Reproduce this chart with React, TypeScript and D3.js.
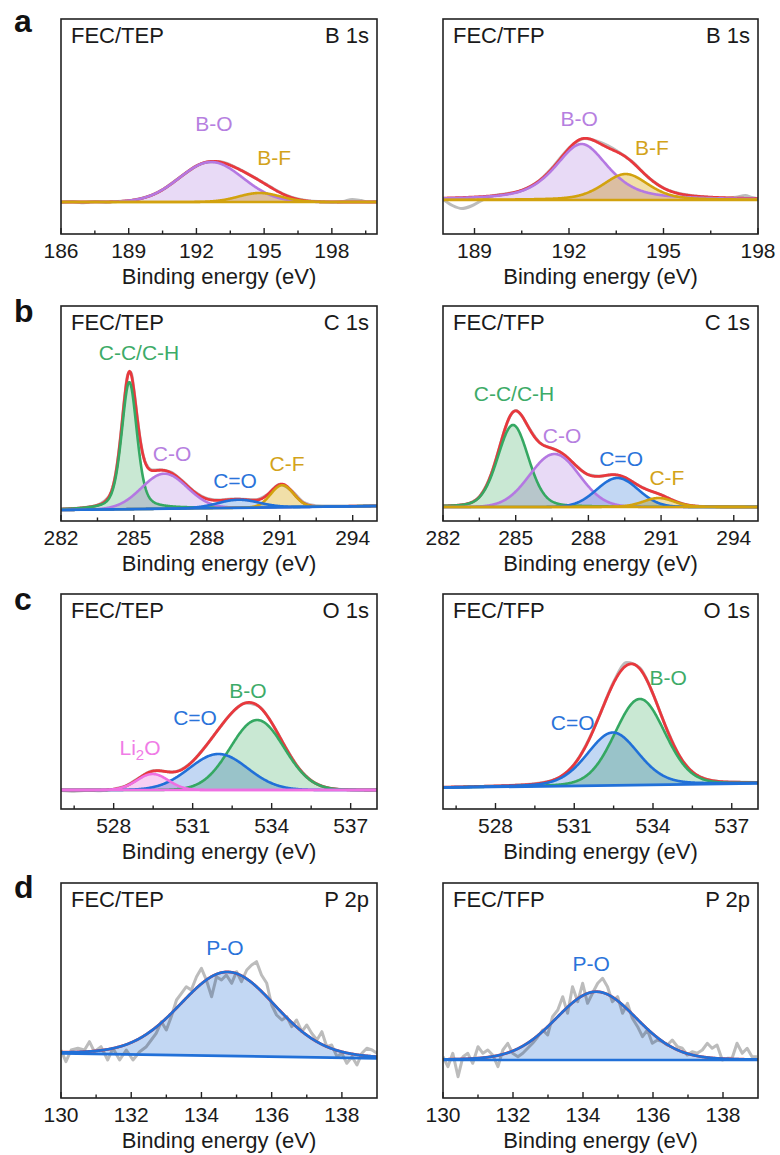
import React from "react";
import * as d3 from "d3";

type Pt = [number, number];
interface Peak { name: string; center: number; fwhm: number; height: number; mix: number; }
interface Label { text: string; e: number; i: number; }

// ================= a : B 1s =================
const B1s_TEP_domain = [186, 200];
const B1s_TEP_ticks = [186, 189, 192, 195, 198];
const B1s_TEP_minor = [187.5, 190.5, 193.5, 196.5, 199.5];
const B1s_TEP_bg = [32, 32];
const B1s_TEP_raw: Pt[] = [
  [186, 31.5], [186.5, 32.4], [187, 31.3], [187.5, 32.6], [188, 31.7], [188.5, 32.6], [189, 33.2],
  [189.5, 35.3], [190, 38.6], [190.5, 44.2], [191, 52.3], [191.5, 60.4], [192, 68.2], [192.5, 72.1],
  [193, 72.6], [193.5, 69.2], [194, 63.6], [194.5, 57.4], [195, 50.9], [195.5, 44.3], [196, 38.6],
  [196.5, 35], [197, 33.1], [197.5, 32.3], [198, 31.8], [198.5, 32.5], [198.9, 34.6], [199.3, 33.4],
  [199.6, 32.2], [200, 32.4],
];
const B1s_TEP_peaks: Peak[] = [
  { name: "B-O", center: 192.65, fwhm: 3.3, height: 40, mix: 0 },
  { name: "B-F", center: 194.8, fwhm: 2.2, height: 9, mix: 0 },
];
const B1s_TEP_labels: Label[] = [
  { text: "B-O", e: 192.78, i: 103.5 },
  { text: "B-F", e: 195.44, i: 69.5 },
];

const B1s_TFP_domain = [188, 198];
const B1s_TFP_ticks = [189, 192, 195, 198];
const B1s_TFP_minor = [190.5, 193.5, 196.5];
const B1s_TFP_bg = [34, 34];
const B1s_TFP_raw: Pt[] = [
  [188, 34.5], [188.3, 28.5], [188.6, 25.5], [188.9, 28], [189.2, 33], [189.5, 37.5], [190, 40.2],
  [190.5, 43.5], [191, 52], [191.5, 67.5], [192, 86], [192.5, 95.5], [193, 91.5], [193.5, 83.5],
  [194, 72.5], [194.5, 57], [195, 46], [195.5, 40.5], [196, 38], [196.5, 36.5], [197, 36],
  [197.3, 36.8], [197.6, 38.6], [197.8, 36.5], [198, 35.2],
];
const B1s_TFP_peaks: Peak[] = [
  { name: "B-O", center: 192.4, fwhm: 2.0, height: 56, mix: 0.6 },
  { name: "B-F", center: 193.8, fwhm: 1.7, height: 26, mix: 0.4 },
];
const B1s_TFP_labels: Label[] = [
  { text: "B-O", e: 192.32, i: 108.5 },
  { text: "B-F", e: 194.63, i: 79.5 },
];

// ================= b : C 1s =================
const C1s_domain = [282, 295];
const C1s_ticks = [282, 285, 288, 291, 294];
const C1s_minor = [283.5, 286.5, 289.5, 292.5];

const C1s_TEP_bg = [11, 15];
const C1s_TEP_raw: Pt[] = [
  [282, 12], [282.5, 12.4], [283, 13.6], [283.5, 15.9], [284, 25.6], [284.25, 47.5], [284.375, 68.5],
  [284.5, 96], [284.625, 125.5], [284.75, 146.5], [284.875, 148.5], [285, 131], [285.125, 106],
  [285.25, 83], [285.375, 66.5], [285.5, 57], [285.75, 51], [286, 51.2], [286.5, 49], [287, 40],
  [287.5, 29.3], [288, 22.6], [288.5, 20.9], [289, 22], [289.5, 21.8], [290, 21.3], [290.5, 26.6],
  [291, 36.8], [291.5, 30], [292, 18.3], [292.5, 15.3], [293, 14.9], [293.5, 15.1], [294, 15.1],
  [294.5, 15.2], [295, 15.1],
];
const C1s_TEP_peaks: Peak[] = [
  { name: "C-C/C-H", center: 284.81, fwhm: 0.75, height: 127, mix: 0.4 },
  { name: "C-O", center: 286.25, fwhm: 2.2, height: 35, mix: 0 },
  { name: "C-F", center: 291.1, fwhm: 1.1, height: 22, mix: 0 },
  { name: "C=O", center: 289.3, fwhm: 2.0, height: 8, mix: 0 },
];
const C1s_TEP_labels: Label[] = [
  { text: "C-C/C-H", e: 285.21, i: 161.5 },
  { text: "C-O", e: 286.57, i: 60.5 },
  { text: "C=O", e: 289.16, i: 33.5 },
  { text: "C-F", e: 291.3, i: 50.5 },
];

const C1s_TFP_bg = [14, 14];
const C1s_TFP_raw: Pt[] = [
  [282, 15], [282.5, 15.5], [283, 17.1], [283.5, 24.3], [284, 47.5], [284.25, 66.8], [284.5, 87.6],
  [284.75, 104], [285, 110.5], [285.25, 105.3], [285.5, 95], [286, 78.1], [286.5, 72.6], [287, 66.2],
  [287.5, 55], [288, 46.2], [288.5, 44.8], [289, 46.3], [289.5, 43.7], [290, 36.5], [290.5, 30.6],
  [291, 26.3], [291.5, 20.6], [292, 16.5], [292.5, 14.8], [293, 14.3], [294, 14.1], [295, 14],
];
const C1s_TFP_peaks: Peak[] = [
  { name: "C-C/C-H", center: 284.89, fwhm: 1.5, height: 82, mix: 0.2 },
  { name: "C-O", center: 286.6, fwhm: 2.4, height: 53, mix: 0 },
  { name: "C=O", center: 289.2, fwhm: 2.0, height: 29, mix: 0 },
  { name: "C-F", center: 290.9, fwhm: 1.5, height: 9, mix: 0.2 },
];
const C1s_TFP_labels: Label[] = [
  { text: "C-C/C-H", e: 284.93, i: 120.5 },
  { text: "C-O", e: 286.91, i: 78.5 },
  { text: "C=O", e: 289.35, i: 55.5 },
  { text: "C-F", e: 291.24, i: 36.5 },
];

// ================= c : O 1s =================
const O1s_domain = [526, 538];
const O1s_ticks = [528, 531, 534, 537];
const O1s_minor = [526.5, 529.5, 532.5, 535.5];

const O1s_TEP_bg = [19, 19];
const O1s_TEP_raw: Pt[] = [
  [526, 18.6], [526.5, 17.8], [527, 18.7], [527.5, 18.2], [528, 19.9], [528.5, 23.6], [529, 31.8],
  [529.5, 38.2], [529.75, 38.3], [530, 37.4], [530.25, 36.9], [530.5, 38.6], [531, 47.8], [531.5, 63],
  [532, 80.4], [532.5, 96.5], [533, 106], [533.5, 103], [534, 86.3], [534.5, 62.9], [535, 41.9],
  [535.5, 28.5], [536, 22.1], [536.5, 19.8], [537, 19.4], [537.5, 19.1], [538, 19.3],
];
const O1s_TEP_peaks: Peak[] = [
  { name: "B-O", center: 533.45, fwhm: 2.4, height: 70, mix: 0 },
  { name: "C=O", center: 531.98, fwhm: 2.6, height: 36, mix: 0 },
  { name: "Li2O", center: 529.48, fwhm: 1.4, height: 16, mix: 0 },
];
const O1s_TEP_labels: Label[] = [
  { text: "B-O", e: 533.1, i: 111.5 },
  { text: "C=O", e: 531.09, i: 84.5 },
  { text: "Li2O", e: 529.0, i: 54.5 },
];

const O1s_TFP_bg = [21.3, 25.7];
const O1s_TFP_raw: Pt[] = [
  [526, 21.5], [526.5, 22], [527, 22.3], [527.5, 22.5], [528, 23], [528.5, 23.6], [529, 24.2],
  [529.5, 25.3], [530, 27.5], [530.5, 32.5], [531, 44.5], [531.5, 66.5], [532, 96], [532.5, 127],
  [533, 146.5], [533.5, 141], [534, 115], [534.5, 81.5], [535, 53.5], [535.5, 37.2], [536, 30],
  [536.5, 27.6], [537, 26.9], [537.5, 26.8], [538, 26.6],
];
const O1s_TFP_peaks: Peak[] = [
  { name: "B-O", center: 533.5, fwhm: 2.25, height: 86, mix: 0.1 },
  { name: "C=O", center: 532.47, fwhm: 2.3, height: 52.8, mix: 0.2 },
];
const O1s_TFP_labels: Label[] = [
  { text: "B-O", e: 534.58, i: 124.5 },
  { text: "C=O", e: 530.94, i: 79.5 },
];

// ================= d : P 2p =================
const P2p_domain = [130, 139];
const P2p_ticks = [130, 132, 134, 136, 138];
const P2p_minor = [131, 133, 135, 137];

const P2p_TEP_bg = [44.7, 39.7];
const P2p_TEP_raw: Pt[] = [
  [130.0, 48], [130.14, 36.3], [130.29, 48], [130.48, 49.7], [130.67, 48], [130.81, 56.3], [130.95, 46.3],
  [131.14, 51.3], [131.33, 38], [131.48, 49.7], [131.67, 38], [131.86, 48], [132.05, 38], [132.24, 46.3],
  [132.43, 51.3], [132.57, 58], [132.71, 64.7], [132.86, 76.3], [133.0, 68], [133.14, 81.3], [133.29, 98],
  [133.43, 104.7], [133.57, 111.3], [133.71, 108], [133.86, 121.3], [134.0, 129.7], [134.14, 118],
  [134.29, 101.3], [134.43, 121.3], [134.57, 118], [134.71, 123], [134.86, 114.7], [135.0, 126.3],
  [135.14, 116.3], [135.29, 128], [135.43, 133], [135.57, 136.3], [135.71, 123], [135.86, 114.7],
  [136.0, 93], [136.14, 83], [136.29, 78], [136.43, 81.3], [136.57, 71.3], [136.71, 78], [136.86, 66.3],
  [137.0, 73], [137.14, 64.7], [137.29, 58], [137.43, 66.3], [137.57, 51.3], [137.71, 53], [137.86, 41.3],
  [138.0, 44.7], [138.14, 34.7], [138.29, 41.3], [138.43, 33], [138.57, 44.7], [138.71, 49.7],
  [138.86, 48], [139.0, 44.7],
];
const P2p_TEP_peaks: Peak[] = [
  { name: "P-O", center: 134.75, fwhm: 3.2, height: 84, mix: 0.1 },
];
const P2p_TEP_labels: Label[] = [{ text: "P-O", e: 134.67, i: 143.5 }];

const P2p_TFP_bg = [38, 38];
const P2p_TFP_raw: Pt[] = [
  [130.0, 41.3], [130.14, 31.3], [130.28, 44.7], [130.43, 21.3], [130.57, 41.3], [130.71, 44.7],
  [130.85, 34.7], [131.0, 51.3], [131.14, 44.7], [131.28, 48], [131.42, 43], [131.57, 31.3], [131.71, 48],
  [131.85, 54.7], [131.99, 44.7], [132.14, 41.3], [132.28, 44.7], [132.42, 49.7], [132.56, 54.7],
  [132.71, 61.3], [132.85, 68], [132.99, 63], [133.13, 81.3], [133.28, 88], [133.42, 101.3], [133.56, 84.7],
  [133.7, 111.3], [133.85, 96.3], [133.99, 114.7], [134.13, 94.7], [134.27, 104.7], [134.42, 114.7],
  [134.56, 119.7], [134.7, 111.3], [134.84, 96.3], [134.99, 101.3], [135.13, 84.7], [135.27, 94.7],
  [135.41, 79.7], [135.56, 71.3], [135.7, 61.3], [135.84, 68], [135.98, 54.7], [136.13, 58], [136.27, 56.3],
  [136.41, 53], [136.55, 58], [136.7, 51.3], [136.84, 49.7], [136.98, 43], [137.12, 46.3], [137.26, 44.7],
  [137.41, 48], [137.55, 54.7], [137.69, 49.7], [137.83, 53], [137.98, 38], [138.12, 39.7], [138.26, 39.7],
  [138.4, 54.7], [138.55, 44.7], [138.69, 49.7], [138.83, 41.3], [138.97, 41.3],
];
const P2p_TFP_peaks: Peak[] = [
  { name: "P-O", center: 134.38, fwhm: 2.73, height: 68.3, mix: 0.1 },
];
const P2p_TFP_labels: Label[] = [{ text: "P-O", e: 134.23, i: 127.5 }];

// ================= styles & layout =================
const FONT = "'Liberation Sans', Arial, Helvetica, sans-serif";
const PALETTE: Record<string, { line: string; fill: string; text: string }> = {
  purple: { line: "#b478e2", fill: "#e8daf6", text: "#b67fe0" },
  gold: { line: "#d2a20e", fill: "#f1dfa8", text: "#d3a31a" },
  green: { line: "#35a862", fill: "#c9e8d3", text: "#3dab68" },
  blue: { line: "#2170d8", fill: "#c2d7f3", text: "#2a73da" },
  pink: { line: "#ee70e2", fill: "#f8d0f3", text: "#f07ce6" },
};
const RED = "#e8383d";
const GRAY = "#bcbcbc";
const COL_LEFT = [61, 443];
const COL_W = [316, 315];
const ROW_TOP = [19, 306, 594, 883];
const H = 215;
const LETTER_BASE = [32, 322, 610, 898];
const LETTERS = ["a", "b", "c", "d"];

interface Spec {
  id: string; row: number; col: number; sample: string; core: string;
  domain: number[]; ticks: number[]; minor: number[]; bg: number[];
  raw: Pt[]; peaks: Peak[]; labels: Label[]; colors: string[]; bgColor: string; noisy: boolean;
}

const SPECS: Spec[] = [
  { id: "aL", row: 0, col: 0, sample: "FEC/TEP", core: "B 1s", domain: B1s_TEP_domain, ticks: B1s_TEP_ticks, minor: B1s_TEP_minor, bg: B1s_TEP_bg, raw: B1s_TEP_raw, peaks: B1s_TEP_peaks, labels: B1s_TEP_labels, colors: ["purple", "gold"], bgColor: "gold", noisy: false },
  { id: "aR", row: 0, col: 1, sample: "FEC/TFP", core: "B 1s", domain: B1s_TFP_domain, ticks: B1s_TFP_ticks, minor: B1s_TFP_minor, bg: B1s_TFP_bg, raw: B1s_TFP_raw, peaks: B1s_TFP_peaks, labels: B1s_TFP_labels, colors: ["purple", "gold"], bgColor: "gold", noisy: false },
  { id: "bL", row: 1, col: 0, sample: "FEC/TEP", core: "C 1s", domain: C1s_domain, ticks: C1s_ticks, minor: C1s_minor, bg: C1s_TEP_bg, raw: C1s_TEP_raw, peaks: C1s_TEP_peaks, labels: C1s_TEP_labels, colors: ["green", "purple", "gold", "blue"], bgColor: "blue", noisy: false },
  { id: "bR", row: 1, col: 1, sample: "FEC/TFP", core: "C 1s", domain: C1s_domain, ticks: C1s_ticks, minor: C1s_minor, bg: C1s_TFP_bg, raw: C1s_TFP_raw, peaks: C1s_TFP_peaks, labels: C1s_TFP_labels, colors: ["green", "purple", "blue", "gold"], bgColor: "gold", noisy: false },
  { id: "cL", row: 2, col: 0, sample: "FEC/TEP", core: "O 1s", domain: O1s_domain, ticks: O1s_ticks, minor: O1s_minor, bg: O1s_TEP_bg, raw: O1s_TEP_raw, peaks: O1s_TEP_peaks, labels: O1s_TEP_labels, colors: ["green", "blue", "pink"], bgColor: "pink", noisy: false },
  { id: "cR", row: 2, col: 1, sample: "FEC/TFP", core: "O 1s", domain: O1s_domain, ticks: O1s_ticks, minor: O1s_minor, bg: O1s_TFP_bg, raw: O1s_TFP_raw, peaks: O1s_TFP_peaks, labels: O1s_TFP_labels, colors: ["green", "blue"], bgColor: "blue", noisy: false },
  { id: "dL", row: 3, col: 0, sample: "FEC/TEP", core: "P 2p", domain: P2p_domain, ticks: P2p_ticks, minor: P2p_minor, bg: P2p_TEP_bg, raw: P2p_TEP_raw, peaks: P2p_TEP_peaks, labels: P2p_TEP_labels, colors: ["blue"], bgColor: "blue", noisy: true },
  { id: "dR", row: 3, col: 1, sample: "FEC/TFP", core: "P 2p", domain: P2p_domain, ticks: P2p_ticks, minor: P2p_minor, bg: P2p_TFP_bg, raw: P2p_TFP_raw, peaks: P2p_TFP_peaks, labels: P2p_TFP_labels, colors: ["blue"], bgColor: "blue", noisy: true },
];

function peakValue(e: number, p: Peak) {
  const d = e - p.center;
  const r = (d * d) / (p.fwhm * p.fwhm);
  const g = Math.exp(-4 * Math.LN2 * r);
  const l = 1 / (1 + 4 * r);
  return p.height * ((1 - p.mix) * g + p.mix * l);
}

function Panel({ s }: { s: Spec }) {
  const left = COL_LEFT[s.col];
  const width = COL_W[s.col];
  const top = ROW_TOP[s.row];
  const bottom = top + H;
  const [d0, d1] = s.domain;
  const x = d3.scaleLinear().domain([d0, d1]).range([left, left + width]);
  const y = d3.scaleLinear().domain([0, H]).range([bottom, top]);
  const bgAt = (e: number) => s.bg[0] + ((s.bg[1] - s.bg[0]) * (e - d0)) / (d1 - d0);
  const grid = d3.range(d0, d1 + 0.0001, 0.02);

  const line = d3.line<Pt>().x((d) => x(d[0])).y((d) => y(d[1]));
  const rawLine = d3
    .line<Pt>()
    .x((d) => x(d[0]))
    .y((d) => y(d[1]))
    .curve(s.noisy ? d3.curveLinear : d3.curveMonotoneX);
  const area = d3
    .area<[number, number, number]>()
    .x((d) => x(d[0]))
    .y0((d) => y(d[1]))
    .y1((d) => y(d[2]));

  const comps = s.peaks.map((p) => grid.map((e) => [e, bgAt(e), bgAt(e) + peakValue(e, p)] as [number, number, number]));
  const envelope: Pt[] = grid.map((e) => [e, bgAt(e) + d3.sum(s.peaks, (p) => peakValue(e, p))]);
  const bgLine: Pt[] = [[d0, bgAt(d0)], [d1, bgAt(d1)]];
  const clipId = "clip-" + s.id;

  const colorOf = (name: string) => {
    const idx = s.peaks.findIndex((p) => p.name === name);
    return PALETTE[s.colors[idx]];
  };

  return (
    <g>
      <defs>
        <clipPath id={clipId}>
          <rect x={left} y={top} width={width} height={H} />
        </clipPath>
      </defs>
      <g clipPath={`url(#${clipId})`}>
        <g style={{ isolation: "isolate" }}>
          <rect x={left} y={top} width={width} height={H} fill="#fff" />
          <path d={rawLine(s.raw) || ""} fill="none" stroke={GRAY} strokeWidth={3} strokeLinejoin="round" />
          {comps.map((c, i) => (
            <path
              key={"f" + i}
              d={area(c) || ""}
              fill={PALETTE[s.colors[i]].fill}
              stroke="none"
              style={{ mixBlendMode: "multiply" }}
            />
          ))}
        </g>
        <path d={line(envelope) || ""} fill="none" stroke={RED} strokeWidth={2.8} />
        {comps.map((c, i) => (
          <path
            key={"l" + i}
            d={line(c.map((d) => [d[0], d[2]] as Pt)) || ""}
            fill="none"
            stroke={PALETTE[s.colors[i]].line}
            strokeWidth={2.6}
          />
        ))}
        <path d={line(bgLine) || ""} fill="none" stroke={PALETTE[s.bgColor].line} strokeWidth={2.7} />
      </g>
      <rect x={left} y={top} width={width} height={H} fill="none" stroke="#222" strokeWidth={1.6} />
      {s.ticks.map((t) => (
        <g key={"t" + t}>
          <line x1={x(t)} x2={x(t)} y1={bottom} y2={bottom - 6} stroke="#222" strokeWidth={1.4} />
          <text x={x(t)} y={bottom + 24} textAnchor="middle" fontSize={21} fill="#1a1a1a" fontFamily={FONT}>
            {t}
          </text>
        </g>
      ))}
      {s.minor.map((t) => (
        <line key={"m" + t} x1={x(t)} x2={x(t)} y1={bottom} y2={bottom - 3.5} stroke="#222" strokeWidth={1.4} />
      ))}
      <text x={left + width / 2} y={bottom + 50} textAnchor="middle" fontSize={22} fill="#1a1a1a" fontFamily={FONT}>
        Binding energy (eV)
      </text>
      <text x={left + 10} y={top + 24} fontSize={22} fill="#1a1a1a" fontFamily={FONT}>
        {s.sample}
      </text>
      <text x={left + width - 8} y={top + 24} textAnchor="end" fontSize={22} fill="#1a1a1a" fontFamily={FONT}>
        {s.core}
      </text>
      {s.labels.map((lb) => {
        const c = colorOf(lb.text);
        if (lb.text === "Li2O") {
          return (
            <text key={lb.text} x={x(lb.e)} y={y(lb.i)} textAnchor="middle" fontSize={21} fill={c.text} fontFamily={FONT}>
              Li<tspan fontSize={15} dy={5}>2</tspan>
              <tspan dy={-5}>O</tspan>
            </text>
          );
        }
        return (
          <text key={lb.text} x={x(lb.e)} y={y(lb.i)} textAnchor="middle" fontSize={21} fill={c.text} fontFamily={FONT}>
            {lb.text}
          </text>
        );
      })}
    </g>
  );
}

export default function App() {
  return (
    <svg
      width={780}
      height={1155}
      viewBox="0 0 780 1155"
      style={{ position: "absolute", left: 0, top: 0, background: "#fff" }}
    >
      <rect x={0} y={0} width={780} height={1155} fill="#fff" />
      {LETTERS.map((l, i) => (
        <text key={l} x={14} y={LETTER_BASE[i]} fontSize={32} fontWeight="bold" fill="#111" fontFamily={FONT}>
          {l}
        </text>
      ))}
      {SPECS.map((s) => (
        <Panel key={s.id} s={s} />
      ))}
    </svg>
  );
}
